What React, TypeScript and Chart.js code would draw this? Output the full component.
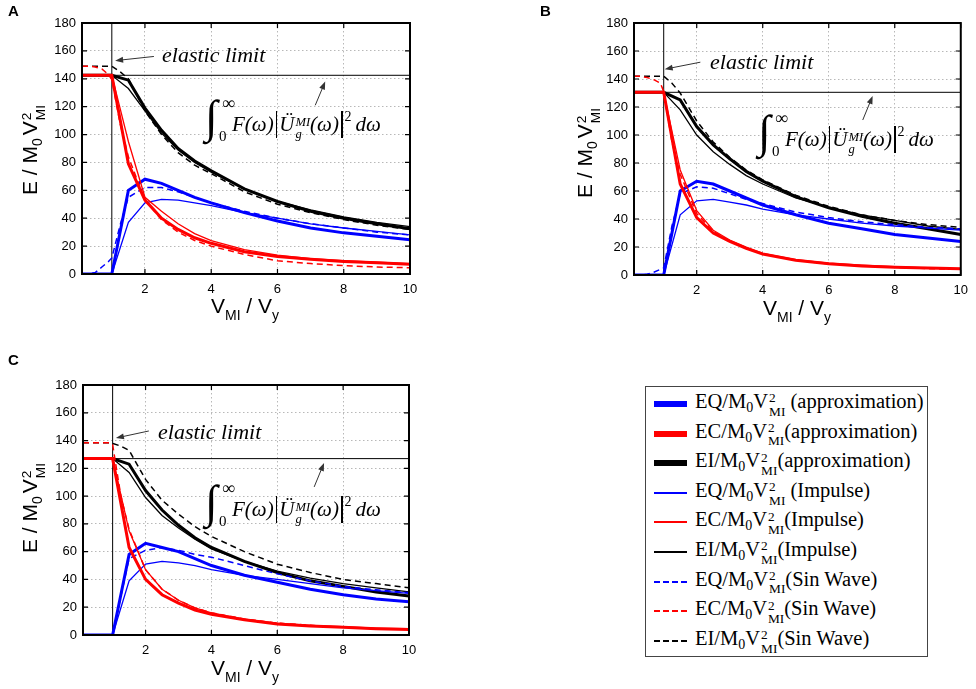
import React, { useEffect, useRef } from "react";
import Chart from "chart.js/auto";

// x positions of the computed points (V_MI / V_y)
const xVals = [0.1, 0.5, 1, 1.5, 2, 2.5, 3, 3.5, 4, 5, 6, 7, 8, 9, 10];
const xSin = [0.1, 0.3, 0.5, 0.7, 0.9, 1, 1.25, 1.5, 2, 2.5, 3, 3.5, 4, 5, 6, 7, 8, 9, 10];
const xTicks = [2, 4, 6, 8, 10];
const yTicks = [0, 20, 40, 60, 80, 100, 120, 140, 160, 180];
const elasticX = 1;

// Panel A
const elasticA = 142.5;
const eqApproxA = [0, 0, 0, 60, 68, 65, 60, 55, 51, 44, 38, 33, 29.5, 27, 24.5];
const ecApproxA = [142.5, 142.5, 142.5, 79, 53, 40, 32, 26, 22, 16, 12.5, 10.5, 9, 8, 7];
const eiApproxA = [142.5, 142.5, 142.5, 139, 119, 103, 90, 81, 74, 61, 52, 45, 40, 36, 32.5];
const eqImpA = [0, 0, 0, 37, 51, 53.5, 53, 51, 49, 44, 40, 36, 33, 30.5, 28];
const ecImpA = [142.5, 142.5, 142.5, 95, 55, 45, 36, 29, 24, 17.5, 13.5, 11, 9.5, 8.5, 7.5];
const eiImpA = [142.5, 142.5, 142.5, 133, 117, 101, 89, 80, 73, 61, 52, 46, 41, 37, 34];
const eqSinA = [0, 0, 1, 5, 9, 11.5, 35, 55, 62, 62, 59, 55, 51, 45, 40, 36, 33, 30, 28];
const ecSinA = [149, 149, 148.5, 147, 143, 139.5, 108, 84, 53, 39, 30, 24, 20, 14, 9.5, 7.5, 6, 5, 4.5];
const eiSinA = [149, 149, 149, 149, 149, 149, 145, 140, 117, 100, 87, 78, 72, 59, 50, 44, 39, 35, 32];

// Panel B
const elasticB = 130.5;
const eqApproxB = [0, 0, 0, 60, 67, 65, 60, 55, 50, 43, 37, 33, 29, 26.5, 24];
const ecApproxB = [130.5, 130.5, 130.5, 65, 41, 30, 24, 19, 15, 10.5, 8, 6.5, 5.5, 5, 4.5];
const eiApproxB = [130.5, 130.5, 130.5, 125, 106, 93, 83, 74, 67, 56, 48, 42, 37, 33, 29];
const eqImpB = [0, 0, 0, 43, 53, 54, 52, 50, 47, 43, 40, 37, 35, 33.5, 32];
const ecImpB = [130.5, 130.5, 130.5, 75, 46, 32, 25, 20, 15.5, 11, 8.5, 7, 6, 5, 4.5];
const eiImpB = [130.5, 130.5, 130.5, 118, 100, 88, 79, 71, 65, 55, 48.5, 43, 39, 35, 32.5];
const eqSinB = [0, 0, 0.5, 2, 4, 5, 35, 58, 63, 62, 58, 54, 51, 45, 41, 38, 36, 34, 33];
const ecSinB = [142, 142, 141, 139.5, 137, 131, 95, 72, 44, 31, 24.5, 19, 15, 10.5, 8, 6.5, 5.5, 4.5, 4];
const eiSinB = [142, 142, 142, 142, 142, 142, 137, 130, 110, 95, 84, 75, 68, 57, 49, 43, 39, 36, 34];

// Panel C
const elasticC = 127;
const eqApproxC = [0, 0, 0, 58, 66, 63, 60, 55, 50, 43, 38, 33, 29, 26, 24];
const ecApproxC = [127, 127, 127, 63, 40, 29, 23, 18, 15, 11, 8, 6.5, 5.5, 4.5, 4];
const eiApproxC = [127, 127, 127, 123, 104, 90, 79, 70, 63, 53, 45, 39, 35, 31, 28];
const eqImpC = [0, 0, 0, 39, 51, 53, 52, 50, 47, 43, 40, 37, 34, 32, 30];
const ecImpC = [127, 127, 127, 75, 47, 33, 25, 19.5, 16, 11.5, 8.5, 7, 6, 5, 4.5];
const eiImpC = [127, 127, 127, 117, 99, 86, 77, 69, 62, 53, 46, 41, 37, 34, 31];
const eqSinC = [0, 0, 0, 0, 0, 0, 28, 55, 61, 63, 61, 58, 56, 50, 44, 39, 35, 32.5, 30.5];
const ecSinC = [138.5, 138.5, 138.5, 138.5, 138.5, 137, 100, 76, 47, 33, 25, 19.5, 16, 11.5, 8.5, 7, 5.5, 4.5, 4];
const eiSinC = [138.5, 138.5, 138.5, 138.5, 138.5, 138, 136, 133, 112, 97, 87, 78, 71, 60, 51, 45, 40, 37, 34];

// legend
const legendSeries = ["EQ", "EC", "EI", "EQ", "EC", "EI", "EQ", "EC", "EI"];
const legendKinds = [" (approximation)", "(approximation)", "(approximation)", " (Impulse)", "(Impulse)", "(Impulse)", "(Sin Wave)", "(Sin Wave)", "(Sin Wave)"];

const BLUE = "#0000ff";
const RED = "#ff0000";
const BLACK = "#000000";
const SANS = '"Liberation Sans", Arial, sans-serif';
const SERIF = '"Liberation Serif", "Times New Roman", serif';

const pts = (xs: number[], ys: number[]) => xs.map((x, i) => ({ x, y: ys[i] }));

// small stacked superscript / subscript, e.g. V with 2 over MI
function SupSub({ sup, sub, size = "0.65em" }: { sup: string; sub: string; size?: string }) {
    return (
        <span
            style={{
                display: "inline-flex",
                flexDirection: "column",
                verticalAlign: "0.42em",
                lineHeight: 1,
                fontSize: size,
                marginLeft: 1,
            }}
        >
            <span>{sup}</span>
            <span>{sub}</span>
        </span>
    );
}

function Bar() {
    return (
        <span
            style={{
                display: "inline-block",
                width: 1.6,
                height: 27,
                background: "#000",
                verticalAlign: -7,
                margin: "0 2px",
            }}
        />
    );
}

function Integral({ left, top }: { left: number; top: number }) {
    return (
        <div style={{ position: "absolute", left, top, width: 190, height: 50, fontFamily: SERIF, color: "#000" }}>
            <span style={{ position: "absolute", left: 0, top: -4, fontSize: 46, lineHeight: 1 }}>∫</span>
            <span style={{ position: "absolute", left: 17, top: -4, fontSize: 18, lineHeight: 1 }}>∞</span>
            <span style={{ position: "absolute", left: 14, top: 31, fontSize: 15, lineHeight: 1 }}>0</span>
            <span
                style={{
                    position: "absolute",
                    left: 27,
                    top: 12,
                    fontSize: 21,
                    lineHeight: 1,
                    fontStyle: "italic",
                    whiteSpace: "nowrap",
                }}
            >
                F(ω)
                <Bar />
                Ü
                <SupSub sup="MI" sub="g" size="0.6em" />
                (ω)
                <Bar />
                <span style={{ fontStyle: "normal", fontSize: 14, verticalAlign: 10 }}>2</span>
                <span style={{ marginLeft: 4 }}>dω</span>
            </span>
        </div>
    );
}

type Arrow = { from: [number, number]; to: [number, number] };

interface PanelProps {
    letter: string;
    left: number;
    top: number;
    w: number;
    h: number;
    area: { l: number; r: number; t: number; b: number };
    elastic: number;
    eqApprox: number[];
    ecApprox: number[];
    eiApprox: number[];
    eqImp: number[];
    ecImp: number[];
    eiImp: number[];
    eqSin: number[];
    ecSin: number[];
    eiSin: number[];
    arrows: Arrow[];
    letterPos: [number, number];
    yTitle: [number, number];
    xTitle: [number, number];
    elasticText: [number, number];
    integralPos: [number, number];
}

const Panel: React.FC<PanelProps> = (p) => {
    const chartRef = useRef<HTMLCanvasElement | null>(null);
    const chartInstance = useRef<Chart | null>(null);

    useEffect(() => {
        if (!chartRef.current) return;
        const ctx = chartRef.current.getContext("2d");
        if (!ctx) return;

        // frame, inward ticks and annotation arrows
        const framePlugin = {
            id: "frame",
            afterDraw: (chart: any) => {
                const c = chart.ctx;
                const { left, right, top, bottom } = chart.chartArea;
                const xs = chart.scales.x;
                const ys = chart.scales.y;
                c.save();
                c.strokeStyle = "#000";
                c.lineWidth = 1.2;
                c.beginPath();
                xTicks.forEach((v) => {
                    const px = xs.getPixelForValue(v);
                    c.moveTo(px, bottom);
                    c.lineTo(px, bottom - 5);
                    c.moveTo(px, top);
                    c.lineTo(px, top + 5);
                });
                yTicks.forEach((v) => {
                    const py = ys.getPixelForValue(v);
                    c.moveTo(left, py);
                    c.lineTo(left + 5, py);
                    c.moveTo(right, py);
                    c.lineTo(right - 5, py);
                });
                c.stroke();
                c.lineWidth = 2;
                c.strokeRect(left, top, right - left, bottom - top);

                c.strokeStyle = "#333";
                c.fillStyle = "#333";
                c.lineWidth = 1;
                p.arrows.forEach((a) => {
                    const x1 = xs.getPixelForValue(a.from[0]);
                    const y1 = ys.getPixelForValue(a.from[1]);
                    const x2 = xs.getPixelForValue(a.to[0]);
                    const y2 = ys.getPixelForValue(a.to[1]);
                    const ang = Math.atan2(y2 - y1, x2 - x1);
                    c.beginPath();
                    c.moveTo(x1, y1);
                    c.lineTo(x2 - 6 * Math.cos(ang), y2 - 6 * Math.sin(ang));
                    c.stroke();
                    c.beginPath();
                    c.moveTo(x2, y2);
                    c.lineTo(x2 - 8 * Math.cos(ang) + 3 * Math.sin(ang), y2 - 8 * Math.sin(ang) - 3 * Math.cos(ang));
                    c.lineTo(x2 - 8 * Math.cos(ang) - 3 * Math.sin(ang), y2 - 8 * Math.sin(ang) + 3 * Math.cos(ang));
                    c.closePath();
                    c.fill();
                });
                c.restore();
            },
        };

        const thick = 3;
        const thin = 1.3;
        const dashW = 1.5;
        const dash = [6, 4];

        chartInstance.current = new Chart(ctx, {
            type: "line",
            data: {
                datasets: [
                    { data: pts(xSin, p.ecSin), borderColor: RED, borderWidth: dashW, borderDash: dash },
                    { data: pts(xVals, p.ecImp), borderColor: RED, borderWidth: thin },
                    { data: pts(xVals, p.ecApprox), borderColor: RED, borderWidth: thick },
                    { data: pts(xSin, p.eqSin), borderColor: BLUE, borderWidth: dashW, borderDash: dash },
                    { data: pts(xVals, p.eqImp), borderColor: BLUE, borderWidth: thin },
                    { data: pts(xVals, p.eqApprox), borderColor: BLUE, borderWidth: thick },
                    { data: pts(xSin, p.eiSin), borderColor: BLACK, borderWidth: dashW, borderDash: dash },
                    { data: pts(xVals, p.eiImp), borderColor: BLACK, borderWidth: thin },
                    { data: pts(xVals, p.eiApprox), borderColor: BLACK, borderWidth: thick },
                    {
                        data: [
                            { x: 0.1, y: p.elastic },
                            { x: 10, y: p.elastic },
                        ],
                        borderColor: BLACK,
                        borderWidth: 1,
                    },
                    {
                        data: [
                            { x: elasticX, y: 0 },
                            { x: elasticX, y: 180 },
                        ],
                        borderColor: BLACK,
                        borderWidth: 1,
                    },
                ],
            },
            options: {
                animation: false,
                responsive: false,
                events: [],
                layout: { padding: { left: 0, top: p.area.t, right: p.w - p.area.r, bottom: 0 } },
                elements: { point: { radius: 0 }, line: { tension: 0, fill: false } },
                plugins: { legend: { display: false }, tooltip: { enabled: false } },
                scales: {
                    x: {
                        type: "linear",
                        min: 0.1,
                        max: 10,
                        afterBuildTicks: (s: any) => {
                            s.ticks = xTicks.map((v) => ({ value: v }));
                        },
                        afterFit: (s: any) => {
                            s.height = p.h - p.area.b;
                        },
                        grid: { color: "#b8b8b8", drawTicks: false, lineWidth: 1 },
                        border: { display: false, dash: [1.5, 2.5] },
                        ticks: { color: "#000", font: { family: SANS, size: 13 }, padding: 8, maxRotation: 0 },
                    },
                    y: {
                        type: "linear",
                        min: 0,
                        max: 180,
                        afterBuildTicks: (s: any) => {
                            s.ticks = yTicks.map((v) => ({ value: v }));
                        },
                        afterFit: (s: any) => {
                            s.width = p.area.l;
                        },
                        grid: { color: "#b8b8b8", drawTicks: false, lineWidth: 1 },
                        border: { display: false, dash: [1.5, 2.5] },
                        ticks: { color: "#000", font: { family: SANS, size: 13 }, padding: 6 },
                    },
                },
            },
            plugins: [framePlugin],
        } as any);

        return () => {
            if (chartInstance.current) {
                chartInstance.current.destroy();
                chartInstance.current = null;
            }
        };
    }, [p]);

    return (
        <div style={{ position: "absolute", left: p.left, top: p.top, width: p.w, height: p.h }}>
            <canvas ref={chartRef} width={p.w} height={p.h} style={{ position: "absolute", left: 0, top: 0 }} />
            <div
                style={{
                    position: "absolute",
                    left: p.letterPos[0],
                    top: p.letterPos[1],
                    fontFamily: SANS,
                    fontWeight: "bold",
                    fontSize: 15,
                    lineHeight: 1,
                }}
            >
                {p.letter}
            </div>
            <div
                style={{
                    position: "absolute",
                    left: p.yTitle[0],
                    top: p.yTitle[1],
                    transform: "translate(-50%, -50%) rotate(-90deg)",
                    fontFamily: SANS,
                    fontSize: 21,
                    lineHeight: 1,
                    whiteSpace: "nowrap",
                }}
            >
                E / M<sub style={{ fontSize: 14, verticalAlign: -5 }}>0</sub>
                <span style={{ marginLeft: 3 }}>V</span>
                <SupSub sup="2" sub="MI" />
            </div>
            <div
                style={{
                    position: "absolute",
                    left: p.xTitle[0],
                    top: p.xTitle[1],
                    transform: "translate(-50%, -50%)",
                    fontFamily: SANS,
                    fontSize: 21,
                    lineHeight: 1,
                    whiteSpace: "nowrap",
                }}
            >
                V<sub style={{ fontSize: 14, verticalAlign: -7 }}>MI</sub> / V
                <sub style={{ fontSize: 14, verticalAlign: -7 }}>y</sub>
            </div>
            <div
                style={{
                    position: "absolute",
                    left: p.elasticText[0],
                    top: p.elasticText[1],
                    fontFamily: SERIF,
                    fontStyle: "italic",
                    fontSize: 22,
                    lineHeight: 1,
                    whiteSpace: "nowrap",
                }}
            >
                elastic limit
            </div>
            <Integral left={p.integralPos[0]} top={p.integralPos[1]} />
        </div>
    );
};

const panelA: PanelProps = {
    letter: "A",
    left: 0,
    top: 0,
    w: 480,
    h: 330,
    area: { l: 82, r: 410, t: 23, b: 274 },
    elastic: elasticA,
    eqApprox: eqApproxA,
    ecApprox: ecApproxA,
    eiApprox: eiApproxA,
    eqImp: eqImpA,
    ecImp: ecImpA,
    eiImp: eiImpA,
    eqSin: eqSinA,
    ecSin: ecSinA,
    eiSin: eiSinA,
    arrows: [
        { from: [2.27, 156], to: [1.1, 153] },
        { from: [7.14, 121], to: [7.44, 138] },
    ],
    letterPos: [8, 3],
    yTitle: [33, 150],
    xTitle: [245, 308],
    elasticText: [162, 44],
    integralPos: [205, 98],
};

const panelB: PanelProps = {
    letter: "B",
    left: 490,
    top: 0,
    w: 486,
    h: 330,
    area: { l: 144, r: 477, t: 23, b: 275 },
    elastic: elasticB,
    eqApprox: eqApproxB,
    ecApprox: ecApproxB,
    eiApprox: eiApproxB,
    eqImp: eqImpB,
    ecImp: ecImpB,
    eiImp: eiImpB,
    eqSin: eqSinB,
    ecSin: ecSinB,
    eiSin: eiSinB,
    arrows: [
        { from: [2.11, 152], to: [1.03, 147] },
        { from: [7.03, 110.7], to: [7.33, 127.9] },
    ],
    letterPos: [50, 3],
    yTitle: [98, 153],
    xTitle: [307, 310],
    elasticText: [220, 51],
    integralPos: [268, 113],
};

const panelC: PanelProps = {
    letter: "C",
    left: 0,
    top: 340,
    w: 480,
    h: 349,
    area: { l: 83, r: 409, t: 45, b: 295 },
    elastic: elasticC,
    eqApprox: eqApproxC,
    ecApprox: ecApproxC,
    eiApprox: eiApproxC,
    eqImp: eqImpC,
    ecImp: ecImpC,
    eiImp: eiImpC,
    eqSin: eqSinC,
    ecSin: ecSinC,
    eiSin: eiSinC,
    arrows: [
        { from: [2.1, 146.9], to: [1.1, 141.8] },
        { from: [7.12, 106.6], to: [7.42, 123.9] },
    ],
    letterPos: [8, 12],
    yTitle: [33, 168],
    xTitle: [245, 330],
    elasticText: [158, 81],
    integralPos: [205, 143],
};

const legendColors = [BLUE, RED, BLACK, BLUE, RED, BLACK, BLUE, RED, BLACK];

function Legend() {
    return (
        <div
            style={{
                position: "absolute",
                left: 645,
                top: 386,
                width: 281,
                height: 269,
                border: "1px solid #444",
                background: "#fff",
                fontFamily: SERIF,
                fontSize: 20.5,
                color: "#000",
            }}
        >
            {legendSeries.map((s, i) => {
                const cy = 17 + i * 29.6;
                const style = i < 6 ? "solid" : "dashed";
                const width = i < 3 ? 6 : 2;
                return (
                    <React.Fragment key={i}>
                        <div
                            style={{
                                position: "absolute",
                                left: 8,
                                top: cy - width / 2,
                                width: 33,
                                borderTop: `${width}px ${style} ${legendColors[i]}`,
                            }}
                        />
                        <div
                            style={{
                                position: "absolute",
                                left: 49,
                                top: cy - 13,
                                lineHeight: 1,
                                whiteSpace: "nowrap",
                            }}
                        >
                            {s}/M<sub style={{ fontSize: 14, verticalAlign: -4 }}>0</sub>V
                            <SupSub sup="2" sub="MI" />
                            {legendKinds[i]}
                        </div>
                    </React.Fragment>
                );
            })}
        </div>
    );
}

export default function App() {
    return (
        <div style={{ position: "absolute", left: 0, top: 0, width: 976, height: 689, background: "#fff", overflow: "hidden" }}>
            <Panel {...panelA} />
            <Panel {...panelB} />
            <Panel {...panelC} />
            <Legend />
        </div>
    );
}
